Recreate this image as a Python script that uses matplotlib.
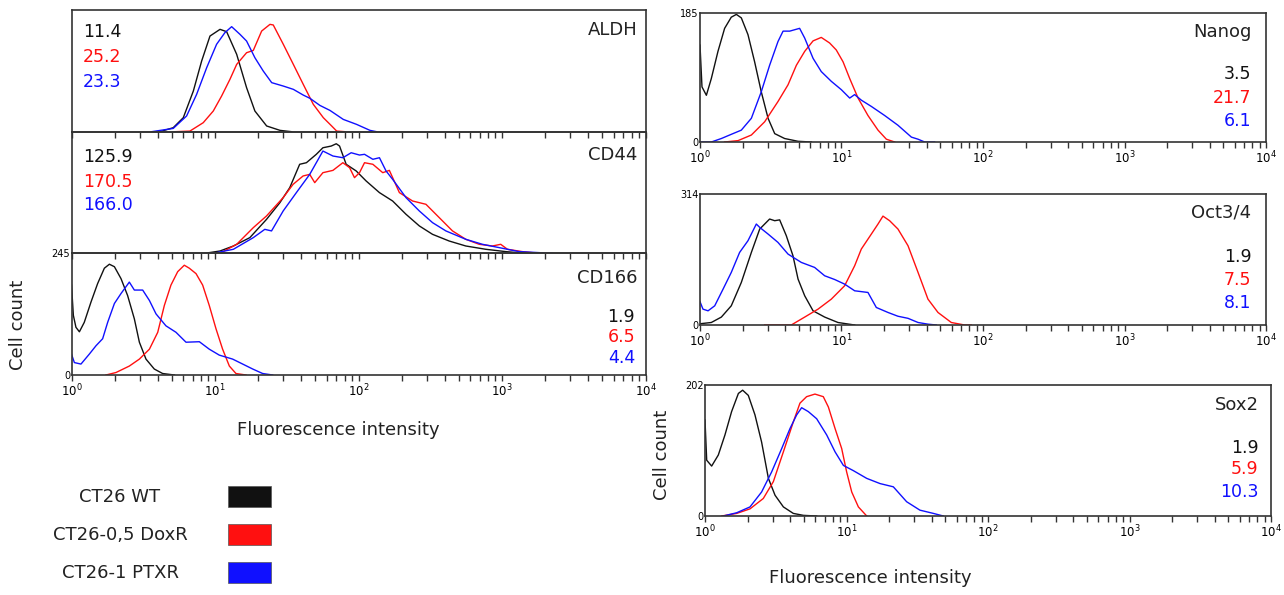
import matplotlib
matplotlib.use("Agg")
import matplotlib.pyplot as plt
from matplotlib.patches import Rectangle
from matplotlib.ticker import LogLocator, NullFormatter, FixedLocator

plt.rcParams["font.family"] = ["DejaVu Sans"]
plt.rcParams["mathtext.fontset"] = "dejavusans"

W, H = 1284, 595
COLORS = ["#111111", "#ff1010", "#1010ff"]
LEGEND = ["CT26 WT", "CT26-0,5 DoxR", "CT26-1 PTXR"]

# histogram traces: (log10 fluorescence, cell count)
aldh_wt = [(0.616, 0), (0.709, 3.3), (0.779, 11.5), (0.849, 33.4), (0.907, 58.1), (0.965, 78.6),
           (1.035, 84.1), (1.081, 82.2), (1.151, 63.6), (1.220, 36.2), (1.278, 17.0), (1.360, 4.7),
           (1.453, 1.1), (1.534, 0)]
aldh_dox = [(0.721, 0), (0.825, 0.5), (0.918, 7.4), (0.988, 17.0), (1.046, 29.3), (1.104, 43.0),
            (1.151, 55.3), (1.220, 64.9), (1.267, 66.8), (1.325, 82.7), (1.383, 88.2), (1.406, 87.7),
            (1.476, 71.8), (1.546, 55.3), (1.615, 38.9), (1.685, 22.5), (1.755, 11.5), (1.813, 4.7),
            (1.848, 0.5), (1.906, 0)]
aldh_ptx = [(0.558, 0), (0.709, 2.7), (0.802, 12.9), (0.872, 30.7), (0.942, 52.6), (1.011, 71.8),
            (1.069, 81.4), (1.116, 86.3), (1.174, 80.0), (1.220, 74.5), (1.278, 60.8), (1.336, 49.9),
            (1.395, 40.3), (1.476, 37.5), (1.546, 34.8), (1.615, 30.1), (1.662, 27.4), (1.731, 21.6),
            (1.801, 17.5), (1.894, 10.1), (1.987, 6.0), (2.080, 1.1), (2.126, 0)]

cd44_wt = [(0.93, 0), (1.035, 1.9), (1.128, 6.0), (1.243, 12.9), (1.359, 27.9), (1.452, 41.6),
           (1.521, 54.0), (1.590, 73.2), (1.637, 74.5), (1.706, 81.4), (1.752, 86.8), (1.810, 88.2),
           (1.845, 90.1), (1.868, 88.2), (1.914, 73.2), (1.984, 67.7), (2.053, 59.5), (2.146, 49.9),
           (2.238, 43.0), (2.331, 32.1), (2.424, 22.5), (2.516, 15.6), (2.632, 10.1), (2.748, 6.0),
           (2.887, 3.3), (3.025, 1.4), (3.164, 0)]
cd44_dox = [(1.035, 0), (1.151, 7.4), (1.267, 21.1), (1.359, 30.7), (1.475, 45.8), (1.544, 56.7),
            (1.614, 63.6), (1.660, 64.9), (1.695, 58.1), (1.752, 66.3), (1.822, 68.2), (1.891, 74.5),
            (1.938, 70.4), (1.972, 62.2), (2.007, 66.3), (2.042, 74.5), (2.100, 73.2), (2.169, 66.3),
            (2.215, 68.2), (2.285, 49.9), (2.377, 43.0), (2.470, 40.3), (2.563, 29.3), (2.655, 18.4),
            (2.748, 11.5), (2.841, 7.4), (2.933, 6.0), (2.991, 7.4), (3.038, 3.3), (3.141, 1.4),
            (3.257, 0)]
cd44_ptx = [(0.988, 0), (1.128, 3.3), (1.267, 12.9), (1.347, 19.7), (1.394, 18.4), (1.475, 34.8),
            (1.567, 49.9), (1.660, 64.9), (1.752, 84.1), (1.822, 80.0), (1.891, 78.6), (1.949, 82.7),
            (2.007, 80.8), (2.042, 81.4), (2.100, 77.3), (2.146, 78.6), (2.192, 67.7), (2.238, 60.8),
            (2.331, 45.8), (2.424, 34.8), (2.516, 25.2), (2.609, 18.4), (2.748, 11.5), (2.864, 7.4),
            (2.979, 4.7), (3.118, 1.4), (3.349, 0)]

cd166_wt = [(0.0, 181), (0.013, 120), (0.031, 96), (0.055, 87), (0.089, 106), (0.136, 147),
            (0.182, 184), (0.229, 215), (0.264, 223), (0.299, 218), (0.345, 194), (0.391, 160),
            (0.438, 113), (0.473, 66), (0.519, 32), (0.577, 12), (0.635, 3), (0.717, 0)]
cd166_dox = [(0.240, 0), (0.310, 5), (0.403, 18), (0.473, 32), (0.543, 52), (0.601, 86), (0.647, 140),
             (0.693, 181), (0.740, 208), (0.786, 221), (0.821, 215), (0.868, 204), (0.914, 181),
             (0.960, 140), (1.007, 93), (1.053, 52), (1.100, 18), (1.146, 3), (1.216, 0)]
cd166_ptx = [(0.0, 42), (0.020, 25), (0.066, 22), (0.124, 42), (0.171, 59), (0.217, 73), (0.252, 106),
             (0.299, 144), (0.345, 164), (0.403, 187), (0.438, 171), (0.496, 171), (0.543, 150),
             (0.589, 123), (0.658, 99), (0.728, 86), (0.798, 66), (0.891, 67), (0.960, 52),
             (1.030, 40), (1.123, 32), (1.193, 22), (1.263, 12), (1.332, 3), (1.402, 0)]

nanog_wt = [(0.0, 139), (0.014, 79), (0.045, 67), (0.080, 91), (0.127, 130), (0.174, 163), (0.221, 179),
            (0.257, 183), (0.292, 178), (0.339, 154), (0.386, 115), (0.433, 72), (0.481, 34),
            (0.528, 12), (0.598, 5), (0.693, 1), (0.787, 0)]
nanog_dox = [(0.174, 0), (0.269, 2), (0.363, 10), (0.457, 29), (0.551, 58), (0.622, 82), (0.681, 110),
             (0.740, 130), (0.799, 145), (0.857, 150), (0.916, 142), (0.963, 132), (1.011, 115),
             (1.058, 91), (1.117, 63), (1.187, 38), (1.258, 17), (1.317, 4), (1.376, 0)]
nanog_ptx = [(0.0, 0), (0.080, 0), (0.151, 5), (0.221, 11), (0.292, 17), (0.363, 34), (0.433, 72),
             (0.492, 110), (0.551, 144), (0.587, 159), (0.634, 159), (0.669, 161), (0.704, 163),
             (0.740, 149), (0.799, 120), (0.857, 101), (0.928, 87), (0.999, 75), (1.058, 63),
             (1.093, 68), (1.140, 60), (1.211, 51), (1.305, 38), (1.399, 24), (1.494, 7),
             (1.541, 4), (1.588, 0), (1.658, 0)]

oct_wt = [(0.0, 3), (0.080, 6), (0.151, 19), (0.221, 46), (0.292, 102), (0.363, 174), (0.422, 230),
          (0.492, 254), (0.528, 250), (0.563, 252), (0.610, 214), (0.657, 166), (0.693, 110),
          (0.740, 70), (0.799, 34), (0.881, 19), (0.975, 6), (1.093, 0)]
oct_dox = [(0.457, 0), (0.645, 0), (0.740, 19), (0.834, 38), (0.928, 62), (1.022, 94), (1.093, 142),
           (1.140, 182), (1.211, 218), (1.258, 242), (1.293, 261), (1.340, 250), (1.399, 230),
           (1.470, 190), (1.541, 126), (1.611, 62), (1.682, 30), (1.776, 6), (1.870, 0), (1.917, 0)]
oct_ptx = [(0.0, 56), (0.021, 38), (0.057, 34), (0.104, 46), (0.163, 86), (0.221, 126), (0.280, 174),
           (0.339, 202), (0.398, 242), (0.422, 234), (0.481, 218), (0.551, 198), (0.622, 170),
           (0.716, 150), (0.810, 138), (0.881, 118), (0.952, 109), (1.022, 98), (1.093, 82),
           (1.187, 78), (1.246, 42), (1.329, 30), (1.399, 21), (1.470, 16), (1.541, 6),
           (1.611, 2), (1.670, 0)]

sox2_wt = [(0.0, 148), (0.012, 86), (0.047, 77), (0.094, 94), (0.141, 125), (0.188, 161), (0.236, 189),
           (0.266, 194), (0.306, 186), (0.353, 156), (0.400, 114), (0.448, 58), (0.495, 32),
           (0.554, 14), (0.624, 4), (0.695, 1), (0.789, 0)]
sox2_dox = [(0.118, 0), (0.224, 4), (0.318, 11), (0.412, 27), (0.483, 53), (0.554, 99), (0.624, 145),
            (0.671, 174), (0.718, 184), (0.777, 188), (0.836, 184), (0.872, 168), (0.919, 135),
            (0.966, 104), (1.001, 68), (1.037, 37), (1.084, 14), (1.143, 0)]
sox2_ptx = [(0.130, 0), (0.224, 5), (0.318, 14), (0.400, 37), (0.471, 68), (0.542, 104), (0.601, 135),
            (0.648, 156), (0.683, 167), (0.730, 161), (0.789, 150), (0.860, 125), (0.919, 99),
            (0.978, 78), (1.048, 70), (1.143, 58), (1.237, 50), (1.331, 45), (1.425, 22),
            (1.519, 9), (1.614, 4), (1.684, 0)]

# mean fluorescence values printed in each panel (WT, DoxR, PTXR)
aldh_mfi = ["11.4", "25.2", "23.3"]
cd44_mfi = ["125.9", "170.5", "166.0"]
cd166_mfi = ["1.9", "6.5", "4.4"]
nanog_mfi = ["3.5", "21.7", "6.1"]
oct_mfi = ["1.9", "7.5", "8.1"]
sox2_mfi = ["1.9", "5.9", "10.3"]

# y-axis maxima (None = unlabeled axis, scaled to 100)
ymax = {"ALDH": None, "CD44": None, "CD166": 245, "Nanog": 185, "Oct3/4": 314, "Sox2": 202}


def box(x0, y0, x1, y1):
    return [x0 / W, 1 - y1 / H, (x1 - x0) / W, (y1 - y0) / H]


def panel(rect, name, traces, mfi, label_pos, mfi_pos, xlabels=True):
    ax = fig.add_axes(box(*rect))
    ax.set_facecolor("none")
    for trace, color in zip(traces, COLORS):
        lx, cnt = zip(*trace)
        ax.plot([10 ** v for v in lx], cnt, color=color, lw=1.0)
    ax.set_xscale("log")
    ax.set_xlim(1, 1e4)
    top = ymax[name]
    ax.set_ylim(0, top if top else 100)
    ax.xaxis.set_major_locator(FixedLocator([1, 10, 100, 1000, 10000]))
    ax.xaxis.set_minor_locator(LogLocator(base=10, subs=range(2, 10)))
    ax.xaxis.set_minor_formatter(NullFormatter())
    if xlabels:
        ax.set_xticklabels([r"$10^{%d}$" % i for i in range(5)])
    else:
        ax.set_xticklabels([])
    ax.tick_params(axis="x", which="both", direction="out", length=4.5, width=1.0,
                   color="#333333", labelsize=8.5, pad=1)
    if top:
        ax.set_yticks([0, top])
        ax.set_yticklabels(["0", str(top)])
        ax.tick_params(axis="y", length=0, labelsize=7, pad=1)
    else:
        ax.set_yticks([])
    for s in ax.spines.values():
        s.set_color("#333333")
        s.set_linewidth(1.2)
    ax.text(label_pos[0], label_pos[1], name, transform=ax.transAxes, ha="right",
            va="center", fontsize=13, color="#222222")
    ha = "left" if mfi_pos[0] < 0.5 else "right"
    for val, color, yy in zip(mfi, COLORS, mfi_pos[1]):
        ax.text(mfi_pos[0], yy, val, transform=ax.transAxes, ha=ha, va="center",
                fontsize=12.5, color=color)
    return ax


fig = plt.figure(figsize=(W / 100, H / 100), dpi=100)

panel((71.5, 10, 645.5, 131.7), "ALDH", [aldh_wt, aldh_dox, aldh_ptx], aldh_mfi,
      (0.986, 0.835), (0.02, [0.82, 0.61, 0.41]), xlabels=False)
panel((71.5, 131.7, 645.5, 253.3), "CD44", [cd44_wt, cd44_dox, cd44_ptx], cd44_mfi,
      (0.986, 0.81), (0.02, [0.795, 0.59, 0.40]), xlabels=False)
panel((71.5, 253.3, 645.5, 375), "CD166", [cd166_wt, cd166_dox, cd166_ptx], cd166_mfi,
      (0.986, 0.795), (0.982, [0.474, 0.315, 0.137]))

panel((700, 13, 1266, 142), "Nanog", [nanog_wt, nanog_dox, nanog_ptx], nanog_mfi,
      (0.974, 0.85), (0.974, [0.53, 0.34, 0.165]))
panel((700, 194, 1266, 325), "Oct3/4", [oct_wt, oct_dox, oct_ptx], oct_mfi,
      (0.974, 0.86), (0.974, [0.52, 0.34, 0.165]))
panel((705, 385, 1271, 516), "Sox2", [sox2_wt, sox2_dox, sox2_ptx], sox2_mfi,
      (0.978, 0.85), (0.978, [0.52, 0.355, 0.18]))

# axis titles
fig.text(18 / W, 1 - 325 / H, "Cell count", rotation=90, ha="center", va="center",
         fontsize=13, color="#222222")
fig.text(338 / W, 1 - 430 / H, "Fluorescence intensity", ha="center", va="center",
         fontsize=13, color="#222222")
fig.text(662 / W, 1 - 455 / H, "Cell count", rotation=90, ha="center", va="center",
         fontsize=13, color="#222222")
fig.text(870 / W, 1 - 578 / H, "Fluorescence intensity", ha="center", va="center",
         fontsize=13, color="#222222")

# legend
for i, (name, color) in enumerate(zip(LEGEND, COLORS)):
    yc = 497 + i * 38
    fig.text(120 / W, 1 - yc / H, name, ha="center", va="center", fontsize=13, color="#222222")
    fig.patches.append(Rectangle((228 / W, 1 - (yc + 10) / H), 43 / W, 21 / H,
                                 transform=fig.transFigure, facecolor=color,
                                 edgecolor="#555555", lw=0.5))

fig.savefig("out.png", dpi=100)
